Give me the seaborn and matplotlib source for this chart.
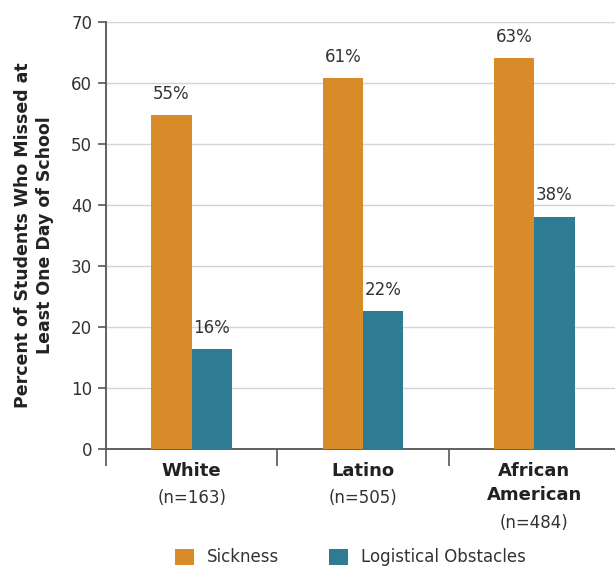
import pandas as pd
import seaborn as sns
import matplotlib.pyplot as plt

# data
groups = ['White', 'Latino', 'African\nAmerican']
sample_sizes = ['(n=163)', '(n=505)', '(n=484)']
sickness = [54.8, 60.8, 64.1]
logistical = [16.4, 22.6, 38.1]
sickness_labels = ['55%', '61%', '63%']
logistical_labels = ['16%', '22%', '38%']
series = ['Sickness', 'Logistical Obstacles']

df = pd.DataFrame({
    'group': groups * 2,
    'series': [series[0]] * 3 + [series[1]] * 3,
    'value': sickness + logistical,
})

sns.set_style('white')
plt.rcParams['font.family'] = ['DejaVu Sans']

fig = plt.figure(figsize=(6.15, 5.67), dpi=100)
ax = fig.add_axes([0.1724, 0.208, 0.83, 0.753])

colors = ['#D98B29', '#2D7C94']
sns.barplot(data=df, x='group', y='value', hue='series', palette=colors,
            width=0.47, gap=0, saturation=1, linewidth=0, ax=ax, legend=True, zorder=3)

ax.set_ylim(0, 70)
ax.set_xlim(-0.5, 2.48)
ax.set_yticks(range(0, 71, 10))
ax.yaxis.grid(True, color='#d4d4d4', linewidth=1, zorder=0)
ax.set_axisbelow(True)

for s in ['top', 'right']:
    ax.spines[s].set_visible(False)
for s in ['left', 'bottom']:
    ax.spines[s].set_color('#555555')
    ax.spines[s].set_linewidth(1.3)

ax.tick_params(axis='y', direction='out', length=6, width=1.2, color='#555555',
               labelsize=12, labelcolor='#333333', pad=4, left=True)
ax.set_xticks([-0.5, 0.5, 1.5])
ax.set_xticklabels([])
ax.tick_params(axis='x', direction='out', length=12, width=1.2, color='#555555', bottom=True)
ax.set_xlabel('')
ax.set_ylabel('Percent of Students Who Missed at\nLeast One Day of School',
              fontsize=12.5, fontweight='bold', color='#222222', labelpad=12,
              linespacing=1.3)

# value labels
bw = 0.47 / 2
for i in range(3):
    ax.text(i - bw / 2, sickness[i] + 2, sickness_labels[i], ha='center', va='bottom',
            fontsize=12, color='#333333')
    ax.text(i + bw / 2, logistical[i] + 2, logistical_labels[i], ha='center', va='bottom',
            fontsize=12, color='#333333')

# category labels under the axis
for i, (g, n) in enumerate(zip(groups, sample_sizes)):
    nlines = g.count('\n') + 1
    ax.annotate(g, xy=(i, 0), xycoords=('data', 'axes fraction'), xytext=(0, -9),
                textcoords='offset points', ha='center', va='top', fontsize=13,
                fontweight='bold', color='#222222', linespacing=1.45)
    ax.annotate(n, xy=(i, 0), xycoords=('data', 'axes fraction'),
                xytext=(0, -10 - 18.5 * nlines), textcoords='offset points',
                ha='center', va='top', fontsize=12, color='#333333')

handles, labels = ax.get_legend_handles_labels()
ax.get_legend().remove()
fig.legend(handles, labels, loc='center', bbox_to_anchor=(0.57, 0.017), ncol=2,
           frameon=False, fontsize=12, handlelength=1.1, handleheight=1.1,
           columnspacing=3, handletextpad=0.8, labelcolor='#333333')

fig.savefig('out.png', dpi=100)
